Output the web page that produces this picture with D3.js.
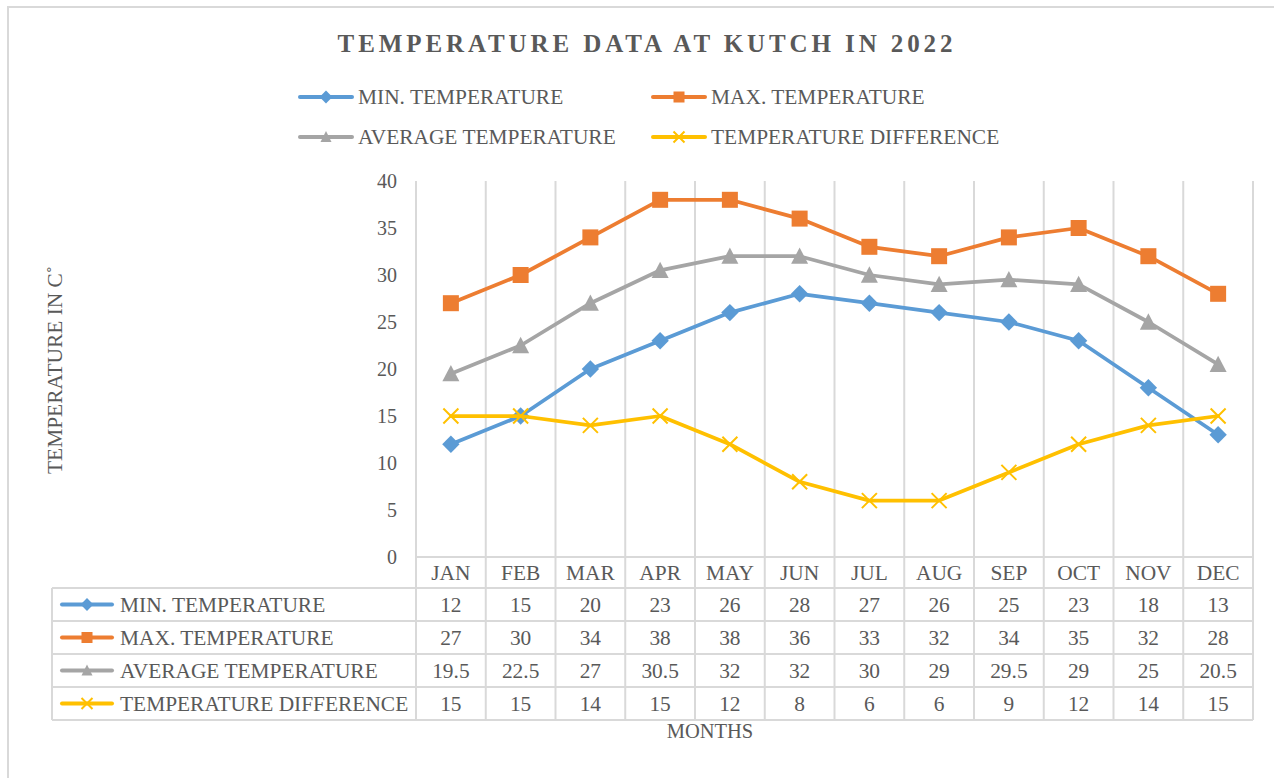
<!DOCTYPE html>
<html>
<head>
<meta charset="utf-8">
<script src="https://cdn.jsdelivr.net/npm/d3@7"></script>
<style>
  body { margin: 0; background: #fff; }
  svg text { font-family: "Liberation Serif", "Times New Roman", serif; fill: #595959; }
</style>
</head>
<body>
<svg id="chart" width="1274" height="778"></svg>
<script>
// data
const months = ["JAN","FEB","MAR","APR","MAY","JUN","JUL","AUG","SEP","OCT","NOV","DEC"];
const minTemp = [12,15,20,23,26,28,27,26,25,23,18,13];
const maxTemp = [27,30,34,38,38,36,33,32,34,35,32,28];
const avgTemp = [19.5,22.5,27,30.5,32,32,30,29,29.5,29,25,20.5];
const diffTemp = [15,15,14,15,12,8,6,6,9,12,14,15];
const seriesNames = ["MIN. TEMPERATURE","MAX. TEMPERATURE","AVERAGE TEMPERATURE","TEMPERATURE DIFFERENCE"];
const yTicks = [0,5,10,15,20,25,30,35,40];

const colors = ["#5B9BD5","#ED7D31","#A5A5A5","#FFC000"];
const shapes = ["diamond","square","triangle","x"];
const series = [minTemp, maxTemp, avgTemp, diffTemp].map((v, i) => ({
  name: seriesNames[i], values: v, color: colors[i], shape: shapes[i]
}));

const svg = d3.select("#chart");
const grid = "#D9D9D9";
const fs = 21.4;

const plot = {left: 416, right: 1253, top: 181, bottom: 557};
const tableLeft = 52;
const rowH = 33;
const headerBottom = 588;

const x = d3.scaleBand().domain(months).range([plot.left, plot.right]).padding(0);
const cx = m => x(m) + x.bandwidth() / 2;
const y = d3.scaleLinear().domain([0, 40]).range([plot.bottom, plot.top]);

// outer chart border
svg.append("path")
  .attr("d", "M8,790 V7 H1290")
  .attr("fill", "none").attr("stroke", grid).attr("stroke-width", 2);

// title
svg.append("text")
  .attr("x", 647).attr("y", 52)
  .attr("text-anchor", "middle")
  .attr("font-size", 25).attr("font-weight", "bold")
  .attr("letter-spacing", 3.9)
  .text("TEMPERATURE DATA AT KUTCH IN 2022");

function marker(g, shape, color, s) {
  if (shape === "square") {
    g.append("rect").attr("x", -s/2).attr("y", -s/2).attr("width", s).attr("height", s).attr("fill", color);
  } else if (shape === "diamond") {
    const r = s * 0.58;
    g.append("path").attr("d", `M0,${-r}L${r},0L0,${r}L${-r},0Z`).attr("fill", color);
  } else if (shape === "triangle") {
    const h = s * 0.9;
    g.append("path").attr("d", `M0,${-h/2 - 1}L${s/2},${h/2}L${-s/2},${h/2}Z`).attr("fill", color);
  } else {
    const r = s / 2;
    g.append("path").attr("d", `M${-r},${-r}L${r},${r}M${r},${-r}L${-r},${r}`)
      .attr("stroke", color).attr("stroke-width", 2).attr("fill", "none");
  }
}

function sample(g, d, x0, yy, len, ms) {
  g.append("line").attr("x1", x0).attr("x2", x0 + len).attr("y1", yy).attr("y2", yy)
    .attr("stroke", d.color).attr("stroke-width", 4).attr("stroke-linecap", "round");
  marker(g.append("g").attr("transform", `translate(${x0 + len/2},${yy})`), d.shape, d.color, ms);
}

// legend
const legendPos = [[300, 97], [653, 97], [300, 137], [653, 137]];
series.forEach((d, i) => {
  const g = svg.append("g");
  const [lx, ly] = legendPos[i];
  sample(g, d, lx, ly, 52, 11);
  g.append("text").attr("x", lx + 58).attr("y", ly + 7).attr("font-size", fs).text(d.name);
});

// y axis label
svg.append("text")
  .attr("transform", "translate(62,370) rotate(-90)")
  .attr("text-anchor", "middle").attr("font-size", fs)
  .text("TEMPERATURE IN C˚");

// vertical gridlines (category edges), running through the table
const edges = months.map(m => x(m)).concat([plot.right]);
svg.append("g").selectAll("line").data(edges).join("line")
  .attr("x1", d => d).attr("x2", d => d)
  .attr("y1", plot.top).attr("y2", headerBottom + rowH * 4)
  .attr("stroke", grid).attr("stroke-width", 2);

// horizontal table lines
svg.append("line").attr("x1", plot.left).attr("x2", plot.right)
  .attr("y1", plot.bottom).attr("y2", plot.bottom).attr("stroke", grid).attr("stroke-width", 2);
svg.append("g").selectAll("line").data(d3.range(5)).join("line")
  .attr("x1", tableLeft).attr("x2", plot.right)
  .attr("y1", i => headerBottom + i * rowH).attr("y2", i => headerBottom + i * rowH)
  .attr("stroke", grid).attr("stroke-width", 2);
svg.append("line").attr("x1", tableLeft).attr("x2", tableLeft)
  .attr("y1", headerBottom).attr("y2", headerBottom + rowH * 4)
  .attr("stroke", grid).attr("stroke-width", 2);

// y tick labels
const yAxis = d3.axisLeft(y).tickValues(yTicks).tickSize(0).tickPadding(0);
const ya = svg.append("g").attr("transform", `translate(397,0)`).call(yAxis);
ya.select(".domain").remove();
ya.selectAll("text").attr("font-size", 20).attr("font-family", null).attr("fill", null).attr("dy", "0.32em");

// month header
svg.append("g").selectAll("text").data(months).join("text")
  .attr("x", cx).attr("y", 580)
  .attr("text-anchor", "middle").attr("font-size", fs)
  .text(d => d);

// lines + markers
const line = d3.line().x((v, i) => cx(months[i])).y(v => y(v));
const msize = {diamond: 15, square: 16, triangle: 17, x: 15};
series.forEach(d => {
  svg.append("path").datum(d.values)
    .attr("d", line).attr("fill", "none")
    .attr("stroke", d.color).attr("stroke-width", 3.75)
    .attr("stroke-linejoin", "round").attr("stroke-linecap", "round");
  const mg = svg.append("g");
  d.values.forEach((v, i) => {
    marker(mg.append("g").attr("transform", `translate(${cx(months[i])},${y(v)})`), d.shape, d.color, msize[d.shape]);
  });
});

// data table rows
series.forEach((d, r) => {
  const mid = headerBottom + r * rowH + rowH / 2;
  const g = svg.append("g");
  sample(g, d, 62, mid, 50, 11);
  g.append("text").attr("x", 120).attr("y", mid + 7).attr("font-size", fs).text(d.name);
  g.selectAll("text.v").data(d.values).join("text").attr("class", "v")
    .attr("x", (v, i) => cx(months[i])).attr("y", mid + 7)
    .attr("text-anchor", "middle").attr("font-size", fs)
    .text(v => v);
});

// x axis title
svg.append("text")
  .attr("x", 710).attr("y", 738)
  .attr("text-anchor", "middle").attr("font-size", 20.5)
  .text("MONTHS");
</script>
</body>
</html>
